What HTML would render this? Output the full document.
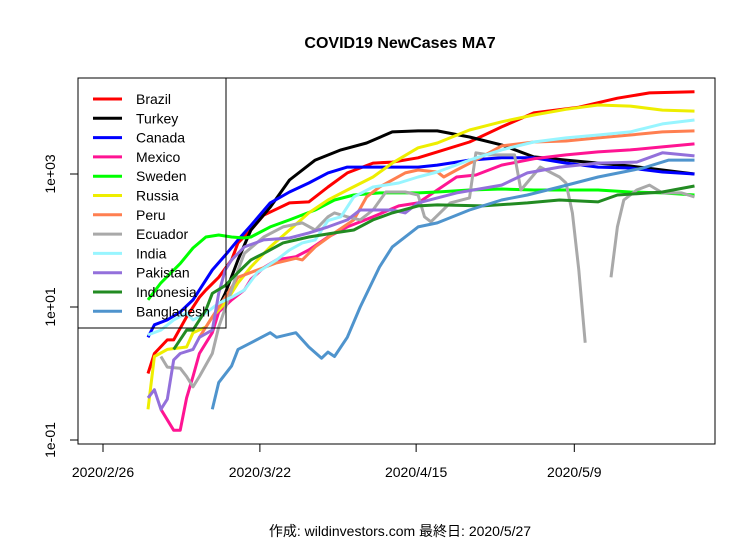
<!DOCTYPE html>
<html><head><meta charset="utf-8"><style>
body{margin:0;background:#fff}
svg{display:block;font-family:"Liberation Sans","Noto Sans CJK JP",sans-serif}
</style></head><body>
<svg id="chart" width="756" height="542" viewBox="0 0 756 542">
<text x="400" y="48" text-anchor="middle" font-size="16" font-weight="bold">COVID19 NewCases MA7</text>
<rect x="78" y="78" width="637" height="366" fill="none" stroke="#000"/>
<g id="axes"></g>
<g id="lines"></g>
<g id="legend"></g>
<text x="400" y="536" text-anchor="middle" font-size="14">作成: wildinvestors.com 最終日: 2020/5/27</text>
</svg>
<script>
const tickLabels = ["2020/2/26","2020/3/22","2020/4/15","2020/5/9"];
const tickIdx = [-7, 17.4, 41.7, 66.3];
const yTicks = [0.1, 10, 1000];
const yTickLabels = ["1e-01","1e+01","1e+03"];
const countries = ["Brazil","Turkey","Canada","Mexico","Sweden","Russia","Peru","Ecuador","India","Pakistan","Indonesia","Bangladesh"];
const colors = ["#ff0000","#000000","#0000ff","#ff1493","#00ff00","#eeee00","#ff7f50","#a9a9a9","#98f5ff","#9370db","#228b22","#4f94cd"];
const brazil = [[0,1.0],[1,2.0],[3,3.2],[4,3.2],[6,7.1],[8,14],[9,18],[11,28],[13,51],[14,92],[16,144],[18,240],[22,367],[25,380],[28,637],[31,1040],[35,1460],[38,1510],[42,1750],[45,2150],[50,3030],[55,5100],[60,8290],[67,10100],[73,13800],[78,16600],[85,17200]];
const turkey = [[11,10],[12,16],[14,51],[16,144],[19,317],[22,812],[26,1620],[30,2300],[34,2930],[38,4290],[42,4440],[45,4440],[50,3600],[55,2740],[60,1810],[65,1620],[70,1460],[75,1320],[80,1150],[85,1000]];
const canada = [[0,3.5],[1,5.4],[3,6.4],[5,8.4],[7,12.8],[10,36],[12,60],[14,102],[16,168],[19,367],[22,537],[25,732],[28,1040],[31,1270],[35,1270],[38,1270],[42,1270],[45,1360],[50,1620],[55,1750],[60,1750],[65,1460],[70,1270],[75,1230],[80,1070],[85,1000]];
const mexico = [[2,0.29],[4,0.14],[5,0.14],[6,0.43],[7,0.9],[8,2.0],[10,4.1],[11,8.4],[13,12.8],[15,18],[16,26],[18,39],[20,51],[23,57],[25,72],[28,113],[31,160],[35,227],[39,331],[42,367],[45,575],[48,902],[51,966],[55,1360],[60,1690],[65,1940],[70,2150],[75,2300],[80,2560],[85,2840]];
const sweden = [[0,12.8],[2,23],[5,45],[7,77],[9,113],[11,121],[13,113],[15,109],[16,113],[19,160],[22,204],[26,288],[29,407],[32,484],[36,519],[42,519],[45,537],[50,575],[55,595],[60,575],[65,575],[70,575],[75,537],[80,519],[85,484]];
const russia = [[0,0.29],[1,1.8],[3,2.3],[6,2.5],[7,4.1],[9,5.0],[10,7.1],[12,11.4],[14,23],[16,40],[19,80],[22,144],[25,260],[28,407],[31,575],[35,902],[38,1460],[42,2480],[45,2930],[50,4590],[55,6100],[60,7700],[65,9400],[70,10900],[75,10500],[80,9140],[85,8840]];
const peru = [[8,3.5],[10,7.1],[12,14],[14,28],[17,36],[20,46],[23,54],[24,51],[26,80],[29,130],[32,204],[34,452],[36,637],[40,1040],[42,1150],[45,1070],[46,902],[48,1150],[51,1620],[55,2650],[60,3030],[65,3140],[70,3490],[75,3860],[80,4290],[85,4440]];
const ecuador = [[2,1.8],[3,1.25],[5,1.2],[6,0.9],[7,0.63],[8,0.9],[10,2.0],[11,5.0],[13,18],[14,36],[15,64],[18,113],[21,160],[24,184],[26,144],[28,227],[29,260],[31,227],[33,204],[35,288],[37,537],[40,537],[42,484],[43,227],[44,191],[47,367],[50,437],[51,2080],[53,1940],[57,1940],[58,575],[61,1270],[64,902],[65,732],[66,260],[67,36],[68,2.9],[69,null],[71,null],[72,28],[73,160],[74,407],[76,575],[78,682],[80,519],[83,519],[85,452]];
const india = [[0,3.8],[2,4.5],[4,6.4],[6,8.1],[7,6.4],[9,8.1],[11,11.4],[13,14],[15,18],[17,33],[20,51],[22,72],[24,92],[26,102],[28,200],[30,227],[32,452],[35,637],[39,732],[42,902],[45,1070],[50,1620],[55,2300],[60,3030],[65,3490],[70,3860],[75,4290],[80,5660],[85,6480]];
const pakistan = [[0,0.43],[1,0.57],[2,0.29],[3,0.41],[4,1.6],[5,2.0],[7,2.3],[8,3.5],[10,4.5],[11,16],[12,36],[13,51],[15,80],[18,102],[22,109],[25,130],[28,160],[31,204],[33,288],[35,288],[38,288],[40,260],[42,367],[48,519],[55,682],[59,1040],[64,1270],[70,1460],[76,1510],[80,2080],[85,1870]];
const indonesia = [[4,2.3],[6,4.5],[7,4.5],[9,9],[10,16],[12,21],[14,33],[16,51],[18,64],[21,92],[25,113],[29,130],[32,144],[35,204],[38,260],[42,331],[45,343],[52,331],[59,367],[64,407],[70,380],[73,484],[80,537],[85,659]];
const bangladesh = [[10,0.29],[11,0.73],[13,1.3],[14,2.3],[16,2.9],[19,4.1],[20,3.5],[23,4.1],[25,2.5],[27,1.7],[28,2.1],[29,1.8],[31,3.5],[33,10],[36,40],[38,80],[42,160],[45,184],[50,288],[55,407],[59,484],[64,637],[70,902],[77,1230],[81,1620],[85,1620]];
const seriesList = [brazil,turkey,canada,mexico,sweden,russia,peru,ecuador,india,pakistan,indonesia,bangladesh];

const NS = "http://www.w3.org/2000/svg";
function xScale(d){ return 148 + d*6.43; }
function yScale(v){ return 373.5 - Math.log10(v)*66.5; }
function mk(tag, attrs, parent){ const e=document.createElementNS(NS,tag); for(const k in attrs) e.setAttribute(k,attrs[k]); parent.appendChild(e); return e; }

const axes = document.getElementById('axes');
tickIdx.forEach((t,i)=>{
  const x = xScale(t);
  const tk = mk('line',{x1:x,x2:x,y1:444,y2:452,stroke:'#000'},axes);
  
  
  const lb = mk('text',{x:x,y:477,'text-anchor':'middle','font-size':14},axes);
  
  
  lb.textContent = tickLabels[i];
});
yTicks.forEach((v,i)=>{
  const y = yScale(v);
  const tk = mk('line',{x1:70,x2:78,y1:y,y2:y,stroke:'#000'},axes);
  
  
  const lb = mk('text',{x:0,y:0,'text-anchor':'middle','font-size':14,transform:`translate(55,${y}) rotate(-90)`},axes);
  
  
  lb.textContent = yTickLabels[i];
});

const lines = document.getElementById('lines');
seriesList.forEach((s,i)=>{
  let d = ""; let pen = false;
  s.forEach(p=>{
    if(p[1]===null){ pen=false; return; }
    d += (pen?"L":"M") + xScale(p[0]).toFixed(1) + "," + yScale(p[1]).toFixed(1);
    pen = true;
  });
  const path = mk('path',{d:d,fill:'none',stroke:colors[i],'stroke-width':3,'stroke-linejoin':'round'},lines);
  
  
});

const legend = document.getElementById('legend');
const box = mk('rect',{x:78,y:78,width:148,height:250,fill:'none',stroke:'#000'},legend);


countries.forEach((c,i)=>{
  const y = 99 + i*19.3;
  const g = mk('g',{},legend);
  
  
  mk('line',{x1:93,x2:122,y1:y,y2:y,stroke:colors[i],'stroke-width':3},g);
  const t = mk('text',{x:136,y:y+5,'font-size':14},g);
  t.textContent = c;
});
</script>
</body></html>
